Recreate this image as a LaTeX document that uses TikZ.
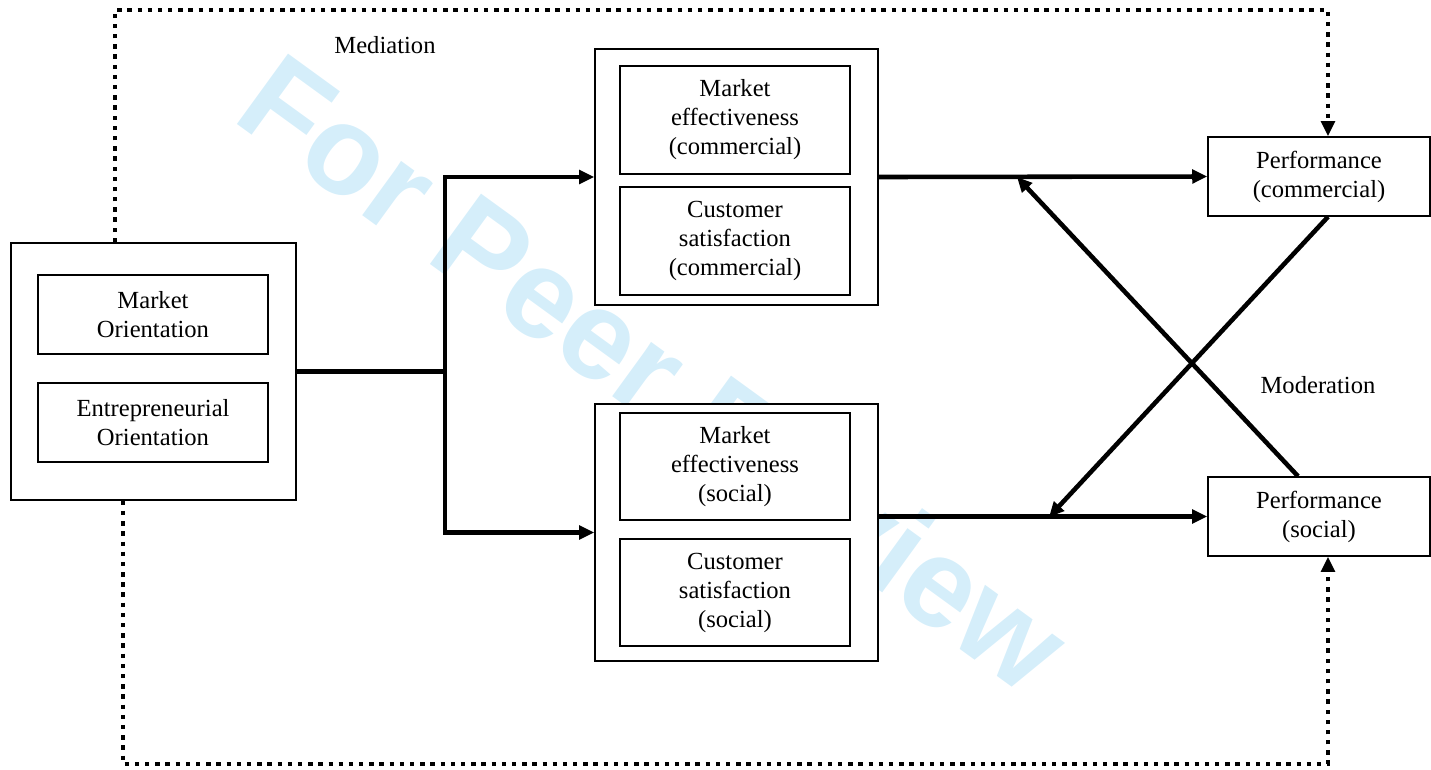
\documentclass[tikz,border=0pt]{standalone}
\usepackage{fontspec}
\setmainfont{Liberation Serif}
\newfontfamily\wmsans{Liberation Sans}
\usepackage{tikz}
\usetikzlibrary{arrows.meta}
\definecolor{wmblue}{RGB}{213,238,250}

\begin{document}
\begin{tikzpicture}[x=0.02cm, y=-0.02cm,
        box/.style={draw, fill=white, line width=0.9pt, align=center, inner sep=0pt,
            font=\fontsize{14}{16.5}\selectfont},
        flow/.style={line width=2.6pt},
        tip/.style={-{Triangle[length=0.3cm, width=0.27cm]}},
        dots/.style={line width=2.5pt, dash pattern=on 2.5pt off 3.3pt}]
        \useasboundingbox (0,0) rectangle (1431,769);
        \node[rotate=-36, text=wmblue, font=\wmsans\bfseries\fontsize{72}{80}\selectfont] (wm) at (655,372) {For Peer Review};

        \node[box, minimum width=5.70cm, minimum height=5.14cm] (lbox) at (153.5, 371.5) {};
        \node[box, minimum width=4.60cm, minimum height=1.58cm] (mo) at (153, 314.5) {Market\\Orientation};
        \node[box, minimum width=4.60cm, minimum height=1.58cm] (eo) at (153, 422.5) {Entrepreneurial\\Orientation};

        \node[box, minimum width=5.66cm, minimum height=5.12cm] (topbox) at (736.5, 177) {};
        \node[box, minimum width=4.60cm, minimum height=2.16cm] (mec) at (735, 120) {Market\\effectiveness\\(commercial)};
        \node[box, minimum width=4.60cm, minimum height=2.16cm] (csc) at (735, 241) {Customer\\satisfaction\\(commercial)};

        \node[box, minimum width=5.66cm, minimum height=5.14cm] (botbox) at (736.5, 532.5) {};
        \node[box, minimum width=4.60cm, minimum height=2.14cm] (mes) at (735, 466.5) {Market\\effectiveness\\(social)};
        \node[box, minimum width=4.60cm, minimum height=2.14cm] (css) at (735, 592.5) {Customer\\satisfaction\\(social)};

        \node[box, minimum width=4.44cm, minimum height=1.58cm] (pc) at (1319, 176.5) {Performance\\(commercial)};
        \node[box, minimum width=4.44cm, minimum height=1.58cm] (ps) at (1319, 516.5) {Performance\\(social)};

        \node[font=\fontsize{14}{16.5}\selectfont] (med) at (385, 45) {Mediation};
        \node[font=\fontsize{14}{16.5}\selectfont] (mod) at (1318, 385) {Moderation};

        % mediation paths
        \coordinate (split) at (445, 371.5);
        \draw[flow] (lbox.east) -- (split);
        \draw[flow, tip] (split) |- (topbox.west);
        \draw[flow, tip] (split) |- (botbox.west);
        \draw[flow, tip] (topbox.east) -- (pc.west);
        \draw[flow, tip] (ps.west -| botbox.east) -- (ps.west);

        % moderation
        \coordinate (hitc) at (1017, 177);
        \coordinate (hits) at (1049, 517);
        \draw[flow, tip] ([xshift=-0.42cm]ps.north) -- (hitc);
        \draw[flow, tip] ([xshift=0.18cm]pc.south) -- (hits);

        % dotted direct effects
        \coordinate (tl) at (115, 10);
        \coordinate (tr) at (1328, 10);
        \coordinate (bl) at (123, 764);
        \coordinate (br) at (1328, 764);
        \draw[dots, tip] (lbox.north -| tl) -- (tl) -- (tr) -- (pc.north -| tr);
        \draw[dots, tip] (lbox.south -| bl) -- (bl) -- (br) -- (ps.south -| br);
    \end{tikzpicture}
\end{document}
